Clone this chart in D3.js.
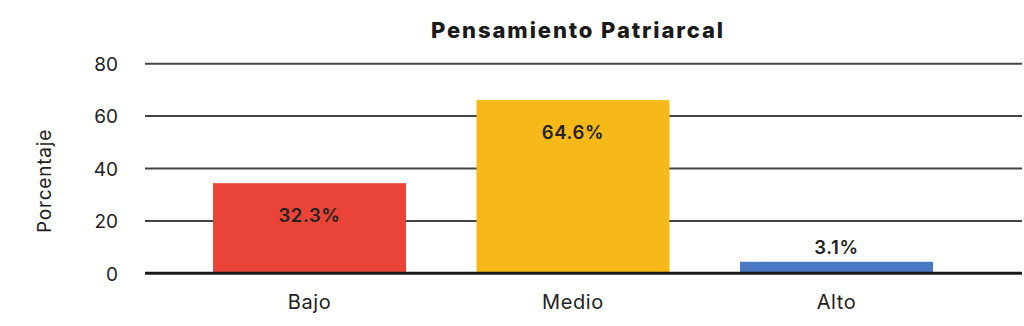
<!DOCTYPE html>
<html>
<head>
<meta charset="utf-8">
<script src="https://cdn.jsdelivr.net/npm/d3@7"></script>
<style>
  body { margin: 0; background: #fff; }
  text { font-family: Inter, "Noto Sans", sans-serif; }
</style>
</head>
<body>
<script>
// data
let categories = ['Bajo', 'Medio', 'Alto'];
let barValues = [34.4, 66.1, 4.4];          // bar heights as drawn
let valueLabels = ['32.3%', '64.6%', '3.1%']; // printed labels
let colors = ['#e94437', '#f6b917', '#4a78c3'];
let yTicks = [0, 20, 40, 60, 80];

let w = 1024, h = 326;

let svg = d3.select('body')
  .append('svg')
  .attr('width', w)
  .attr('height', h);

let y = d3.scaleLinear().domain([0, 80]).range([273.3, 63.7]);
let x = d3.scaleBand()
  .domain(categories)
  .range([177.75, 968.25])
  .paddingInner(0.2676)
  .paddingOuter(0.1338);

// title
svg.append('text')
  .attr('x', 578)
  .attr('y', 38)
  .attr('text-anchor', 'middle')
  .attr('font-size', 22)
  .attr('font-weight', 800)
  .attr('letter-spacing', 1.9)
  .attr('fill', '#1a1a1a')
  .text('Pensamiento Patriarcal');

// y tick labels
let yAxis = d3.axisLeft(y)
  .tickValues(yTicks)
  .tickSize(0)
  .tickPadding(0);

let gy = svg.append('g').attr('transform', 'translate(118,0)').call(yAxis);
gy.select('.domain').remove();
gy.selectAll('text')
  .attr('font-size', 19)
  .attr('fill', '#222')
  .attr('dy', '0.36em');

// gridlines
svg.selectAll('.grid')
  .data(yTicks.filter(d => d > 0))
  .enter()
  .append('line')
  .attr('x1', 145)
  .attr('x2', 1022)
  .attr('y1', d => y(d))
  .attr('y2', d => y(d))
  .attr('stroke', '#444')
  .attr('stroke-width', 2);

// bars
svg.selectAll('.bar')
  .data(barValues)
  .enter()
  .append('rect')
  .attr('x', (d, i) => x(categories[i]))
  .attr('width', x.bandwidth())
  .attr('y', d => y(d))
  .attr('height', d => y(0) - y(d))
  .attr('fill', (d, i) => colors[i]);

// baseline
svg.append('line')
  .attr('x1', 145)
  .attr('x2', 1022)
  .attr('y1', y(0))
  .attr('y2', y(0))
  .attr('stroke', '#1a1a1a')
  .attr('stroke-width', 3);

// value labels
svg.selectAll('.lbl')
  .data(barValues)
  .enter()
  .append('text')
  .attr('x', (d, i) => x(categories[i]) + x.bandwidth() / 2)
  .attr('y', d => d > 10 ? y(d) + 39 : y(d) - 8)
  .attr('text-anchor', 'middle')
  .attr('font-size', 18.5)
  .attr('font-weight', 600)
  .attr('letter-spacing', 0.6)
  .attr('fill', '#222')
  .text((d, i) => valueLabels[i]);

// x labels
let xAxis = d3.axisBottom(x).tickSize(0).tickPadding(0);
let gx = svg.append('g').attr('transform', 'translate(0,295)').call(xAxis);
gx.select('.domain').remove();
gx.selectAll('text')
  .attr('font-size', 20)
  .attr('letter-spacing', 0.6)
  .attr('fill', '#222')
  .attr('dy', '0.71em');

// y axis title
svg.append('text')
  .attr('transform', 'translate(51,181) rotate(-90)')
  .attr('text-anchor', 'middle')
  .attr('font-size', 19)
  .attr('letter-spacing', 0.8)
  .attr('fill', '#222')
  .text('Porcentaje');
</script>
</body>
</html>
